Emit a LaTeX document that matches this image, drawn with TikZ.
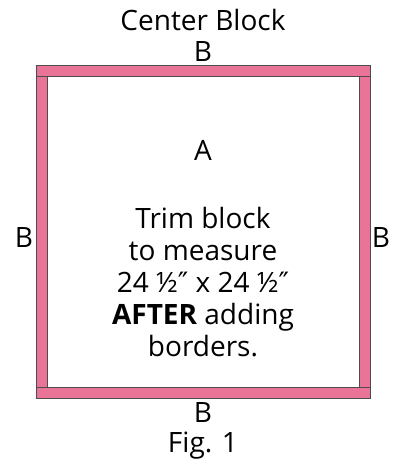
\documentclass[tikz,border=0pt]{standalone}
\usepackage{fontspec}
\setmainfont{Open Sans}
\newfontfamily\symfont{DejaVu Sans}
\usepackage{tikz}
\usetikzlibrary{positioning}
\definecolor{borderpink}{HTML}{E97498}
\newcommand{\inch}{{\symfont ″}}
\tikzset{every strip/.style={draw=black!70,fill=borderpink,line width=1pt}}
\tikzset{strip/.style={every strip,rectangle,inner sep=0pt}}
\tikzset{label text/.style={font=\fontsize{28}{32}\selectfont,inner sep=0pt}}

\begin{document}
\begin{tikzpicture}[x=1pt,y=1pt]
          \useasboundingbox (0,0) rectangle (399,472);
          \node[strip,minimum width=334pt,minimum height=11pt] (top) at (203,400.5) {};
          \node[strip,minimum width=334pt,minimum height=11pt] (bot) at (203,78.5) {};
          \node[strip,minimum width=11pt,minimum height=311pt] (lft) at (41.5,239.5) {};
          \node[strip,minimum width=11pt,minimum height=311pt] (rgt) at (364.5,239.5) {};
          \node[label text] (title) at (203,452) {Center Block};
          \node[label text,anchor=center] (btop) at (203,420) {B};
          \node[label text,anchor=center] (bbot) at (203,59) {B};
          \node[label text,anchor=center] (blft) at (24,234) {B};
          \node[label text,anchor=center] (brgt) at (381,234) {B};
          \node[label text] (a) at (203,322) {A};
          \node[label text,align=center] (trim) at (203,190)
               {Trim block\\to measure\\24 ½\inch{} x 24 ½\inch\\\textbf{AFTER} adding\\borders.};
          \node[label text] (fig) at (203,26) {Fig. 1};
        \end{tikzpicture}
\end{document}
